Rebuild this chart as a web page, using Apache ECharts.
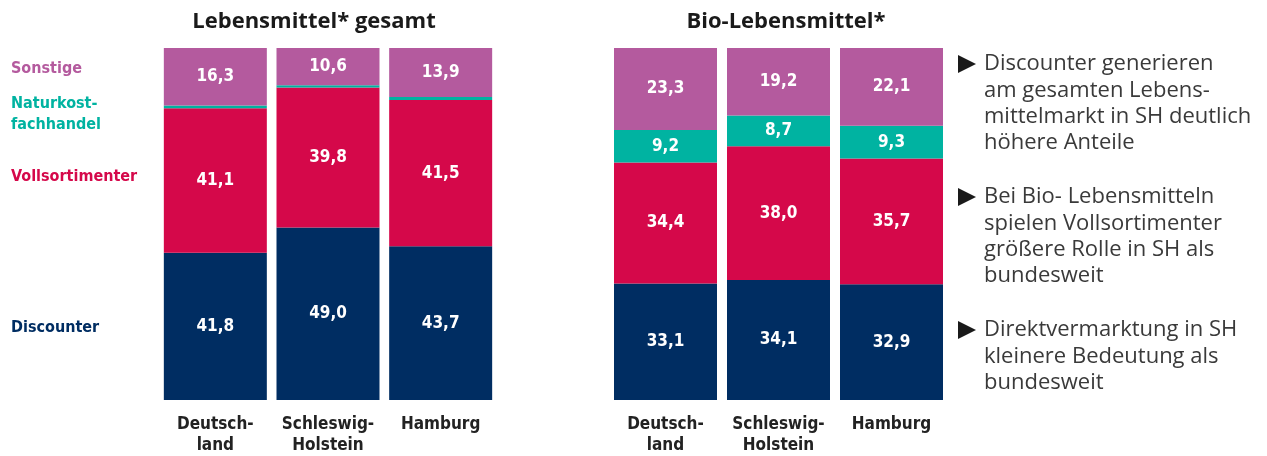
<!DOCTYPE html>
<html><head><meta charset="utf-8">
<script src="https://cdn.jsdelivr.net/npm/echarts@6/dist/echarts.min.js"></script>
<style>html,body{margin:0;padding:0;background:#fff}#c{width:1267px;height:456px}</style>
</head><body><div id="c"></div>
<script>
const categories = ['Deutsch-\nland', 'Schleswig-\nHolstein', 'Hamburg'];
const seriesNames = ['Discounter', 'Vollsortimenter', 'Naturkostfachhandel', 'Sonstige'];
// Lebensmittel gesamt
const gesamtDiscounter = [41.8, 49.0, 43.7];
const gesamtVoll = [41.1, 39.8, 41.5];
const gesamtNatur = [0.8, 0.6, 0.9];
const gesamtSonstige = [16.3, 10.6, 13.9];
// Bio-Lebensmittel
const bioDiscounter = [33.1, 34.1, 32.9];
const bioVoll = [34.4, 38.0, 35.7];
const bioNatur = [9.2, 8.7, 9.3];
const bioSonstige = [23.3, 19.2, 22.1];
const titles = ['Lebensmittel* gesamt', 'Bio-Lebensmittel*'];
const notes = [
  ['Discounter generieren', 'am gesamten Lebens-', 'mittelmarkt in SH deutlich', 'höhere Anteile'],
  ['Bei Bio- Lebensmitteln', 'spielen Vollsortimenter', 'größere Rolle in SH als', 'bundesweit'],
  ['Direktvermarktung in SH', 'kleinere Bedeutung als', 'bundesweit']
];

const colors = ['#002D62', '#D5084A', '#00B3A1', '#B45A9E'];
const condFont = '"Liberation Sans Narrow", "DejaVu Sans Condensed", "Roboto", sans-serif';
const chart = echarts.init(document.getElementById('c'));

function mk(name, data, idx, color, stack, showLabel) {
  return {
    name: name, type: 'bar', stack: stack, xAxisIndex: idx, yAxisIndex: idx,
    data: data, barWidth: 103, itemStyle: {color: color},
    label: {show: showLabel, position: 'inside', color: '#fff', fontFamily: condFont,
      fontWeight: 'bold', fontSize: 17,
      formatter: p => p.value.toFixed(1).replace('.', ',')},
    emphasis: {disabled: true}
  };
}

const graphics = [];
const titleCenters = [314, 786];
titles.forEach((t, i) => {
  graphics.push({type: 'text', x: titleCenters[i], y: 11,
    style: {text: t, font: 'bold 22px "Open Sans", "Lato", sans-serif', fill: '#1a1a1a', textAlign: 'center'}});
});
const legendLabels = [
  {text: 'Sonstige', y: 58, c: colors[3]},
  {text: 'Naturkost-\nfachhandel', y: 93, c: colors[2]},
  {text: 'Vollsortimenter', y: 166, c: colors[1]},
  {text: 'Discounter', y: 317, c: colors[0]}
];
legendLabels.forEach(l => graphics.push({type: 'text', left: 11, top: l.y,
  style: {text: l.text, fill: l.c, font: 'bold 16px ' + condFont, lineHeight: 21}}));
const noteTops = [51, 184, 317];
notes.forEach((lines, i) => {
  graphics.push({type: 'polygon', shape: {points: [[958, noteTops[i] + 4], [958, noteTops[i] + 22], [976, noteTops[i] + 13]]},
    style: {fill: '#1a1a1a'}});
  graphics.push({type: 'text', left: 984, top: noteTops[i],
    style: {text: lines.join('\n'), fill: '#3a3a3a', font: '22px "Open Sans", "Lato", sans-serif', lineHeight: 26.3}});
});

const xAx = i => ({type: 'category', gridIndex: i, data: categories,
  axisLine: {show: false}, axisTick: {show: false},
  axisLabel: {interval: 0, color: '#222', fontFamily: condFont, fontWeight: 'bold', fontSize: 17, lineHeight: 21, margin: 14}});
const yAx = i => ({type: 'value', gridIndex: i, min: 0, max: 100, show: false, splitLine: {show: false}});

chart.setOption({
  animation: false,
  grid: [
    {left: 159, width: 338, top: 48, height: 355},
    {left: 609, width: 339, top: 48, height: 355}
  ],
  xAxis: [xAx(0), xAx(1)],
  yAxis: [yAx(0), yAx(1)],
  series: [
    mk(seriesNames[0], gesamtDiscounter, 0, colors[0], 'a', true),
    mk(seriesNames[1], gesamtVoll, 0, colors[1], 'a', true),
    mk(seriesNames[2], gesamtNatur, 0, colors[2], 'a', false),
    mk(seriesNames[3], gesamtSonstige, 0, colors[3], 'a', true),
    mk(seriesNames[0], bioDiscounter, 1, colors[0], 'b', true),
    mk(seriesNames[1], bioVoll, 1, colors[1], 'b', true),
    mk(seriesNames[2], bioNatur, 1, colors[2], 'b', true),
    mk(seriesNames[3], bioSonstige, 1, colors[3], 'b', true)
  ],
  graphic: graphics
});
</script></body></html>
